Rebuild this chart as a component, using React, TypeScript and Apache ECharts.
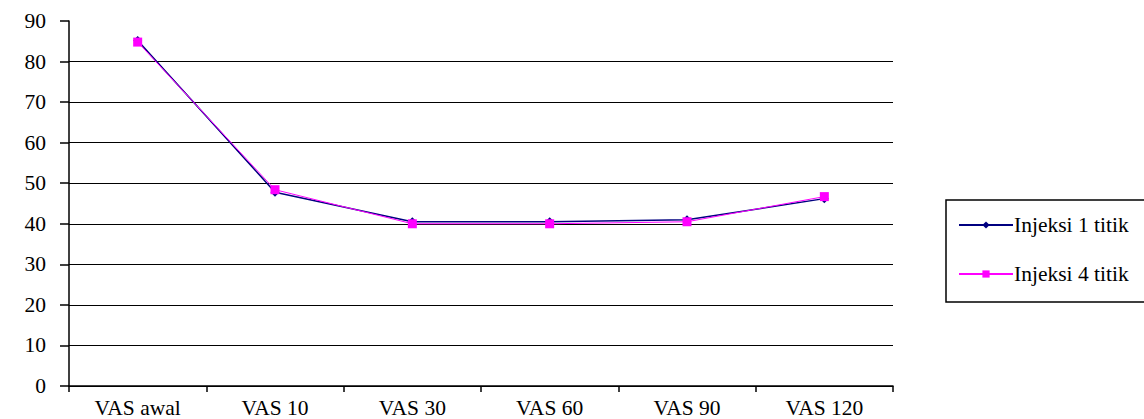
import React, { useEffect, useRef } from "react";
import * as echarts from "echarts";

const categories = ["VAS awal", "VAS 10", "VAS 30", "VAS 60", "VAS 90", "VAS 120"];
const injeksi1 = [85.2, 47.8, 40.5, 40.5, 41.0, 46.2];
const injeksi4 = [84.8, 48.4, 40.0, 40.0, 40.5, 46.7];
const seriesNames = ["Injeksi 1 titik", "Injeksi 4 titik"];

const FONT = "Times New Roman, Liberation Serif, serif";

export default function App() {
  const ref = useRef<HTMLDivElement>(null);
  useEffect(() => {
    if (!ref.current) return;
    const chart = echarts.init(ref.current, undefined, { renderer: "svg" });
    chart.setOption({
      animation: false,
      backgroundColor: "#ffffff",
      textStyle: { fontFamily: FONT },
      grid: { left: 69, right: 251, top: 21, bottom: 31, containLabel: false },
      xAxis: {
        type: "category",
        data: categories,
        boundaryGap: true,
        axisLine: { lineStyle: { color: "#000", width: 1.5 } },
        axisTick: { show: true, length: 6, inside: false, lineStyle: { color: "#000", width: 1.5 } },
        axisLabel: { color: "#000", fontSize: 21.5, fontFamily: FONT, margin: 11 },
      },
      yAxis: {
        type: "value",
        min: 0,
        max: 90,
        interval: 10,
        axisLine: { show: true, lineStyle: { color: "#000", width: 1.5 } },
        axisTick: { show: true, length: 9, lineStyle: { color: "#000", width: 1.5 } },
        axisLabel: { color: "#000", fontSize: 21.5, fontFamily: FONT, margin: 23 },
        splitLine: { show: true, showMaxLine: false, lineStyle: { color: "#000", width: 1 } },
      },
      legend: {
        orient: "vertical",
        left: 958,
        top: 214,
        padding: 0,
        itemWidth: 54,
        itemHeight: 9,
        itemGap: 27,
        textStyle: { color: "#000", fontSize: 21.5, fontFamily: FONT, padding: [0, 0, 0, -4] },
        data: seriesNames,
      },
      graphic: [
        {
          type: "rect",
          shape: { x: 946, y: 200, width: 210, height: 102 },
          style: { fill: "none", stroke: "#000", lineWidth: 1.5 },
          z: -1,
        },
      ],
      series: [
        {
          name: seriesNames[0],
          type: "line",
          data: injeksi1,
          symbol: "diamond",
          symbolSize: 9,
          color: "#000080",
          lineStyle: { color: "#000080", width: 1.5 },
          itemStyle: { color: "#000080" },
          z: 2,
        },
        {
          name: seriesNames[1],
          type: "line",
          data: injeksi4,
          symbol: "rect",
          symbolSize: 9,
          color: "#FF00FF",
          lineStyle: { color: "#FF00FF", width: 1 },
          itemStyle: { color: "#FF00FF" },
          z: 3,
        },
      ],
    });
    return () => chart.dispose();
  }, []);
  return (
    <div
      ref={ref}
      style={{ position: "fixed", left: 0, top: 0, width: 1144, height: 419 }}
    />
  );
}
